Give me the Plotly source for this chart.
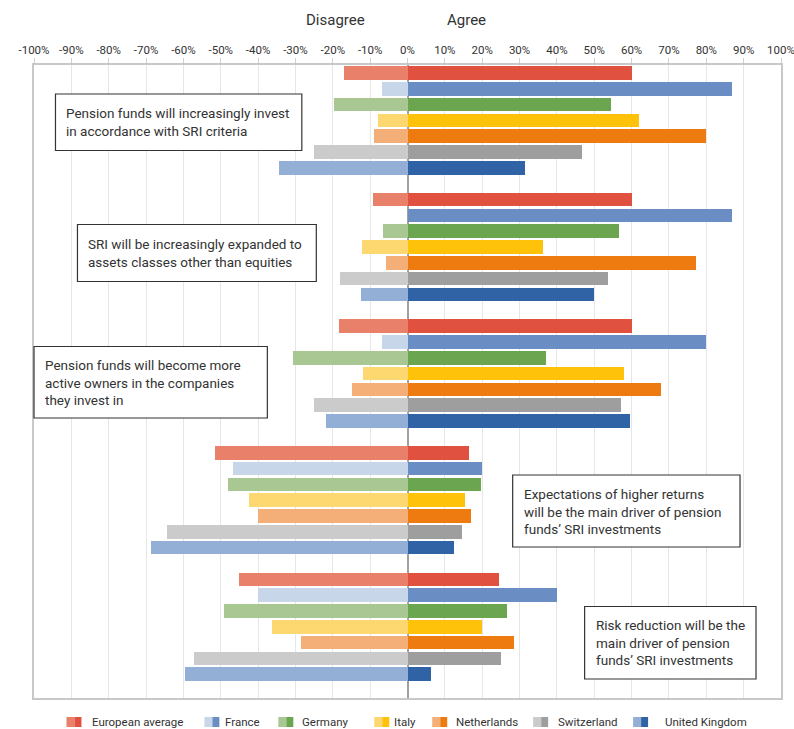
import plotly.graph_objects as go

# Survey statements (one block of bars each)
statements = [
    "Pension funds will increasingly invest<br>in accordance with SRI criteria",
    "SRI will be increasingly expanded to<br>assets classes other than equities",
    "Pension funds will become more<br>active owners in the companies<br>they invest in",
    "Expectations of higher returns<br>will be the main driver of pension<br>funds’ SRI investments",
    "Risk reduction will be the<br>main driver of pension<br>funds’ SRI investments",
]

countries = ["European average", "France", "Germany", "Italy",
             "Netherlands", "Switzerland", "United Kingdom"]

# Share agreeing (%) per statement, one list per country
agree_eu = [60, 60, 60, 16.5, 24.6]
agree_fr = [87, 87, 80, 20, 40]
agree_de = [54.6, 56.6, 37.2, 19.7, 26.6]
agree_it = [62, 36.2, 58, 15.4, 20]
agree_nl = [80, 77.3, 67.8, 17, 28.6]
agree_ch = [46.7, 53.6, 57.2, 14.5, 25]
agree_uk = [31.5, 50, 59.6, 12.4, 6.2]

# Share disagreeing (%) per statement, drawn to the left of zero
disagree_eu = [-17, -9.2, -18.3, -51.6, -45]
disagree_fr = [-6.7, 0, -6.8, -46.6, -40.1]
disagree_de = [-19.6, -6.5, -30.6, -48, -49]
disagree_it = [-7.8, -12.1, -11.8, -42.4, -36.2]
disagree_nl = [-8.9, -5.8, -14.8, -40.1, -28.6]
disagree_ch = [-25, -18.1, -25, -64.5, -57.2]
disagree_uk = [-34.5, -12.4, -21.9, -68.8, -59.6]

tick_values = list(range(-100, 101, 10))
tick_labels = [f"{v}%" for v in tick_values]

agree_all = [agree_eu, agree_fr, agree_de, agree_it, agree_nl, agree_ch, agree_uk]
disagree_all = [disagree_eu, disagree_fr, disagree_de, disagree_it,
                disagree_nl, disagree_ch, disagree_uk]

dark_colors = ["#E0523F", "#6A8DC4", "#6BA550", "#FEC20B",
               "#EE7B10", "#9E9E9E", "#2F63A5"]
light_colors = ["#E8806A", "#C8D6EA", "#A9C793", "#FDD870",
                "#F4AE78", "#CBCBCB", "#93AFD6"]

W, H = 794, 729
L, R, T, B = 33.5, 781, 65, 698
FONT = "Roboto, Arial, sans-serif"
TEXT = "#333333"

fig = go.Figure()

n_c = len(countries)
for ci in range(n_c):
    pos = [g * (n_c + 1) + ci for g in range(len(statements))]
    fig.add_trace(go.Bar(
        x=disagree_all[ci], y=pos, orientation="h",
        marker=dict(color=light_colors[ci], line=dict(width=0)),
        width=0.86, showlegend=False, name=countries[ci],
    ))
    fig.add_trace(go.Bar(
        x=agree_all[ci], y=pos, orientation="h",
        marker=dict(color=dark_colors[ci], line=dict(width=0)),
        width=0.86, showlegend=False, name=countries[ci],
    ))

n_slots = len(statements) * (n_c + 1) - 1


def px(x):
    return (x - L) / (R - L)


def py(y):
    return 1 - (y - T) / (B - T)


shapes = []
annotations = []

# Statement boxes: (left, top, right, bottom) in pixels
boxes = [
    (55, 94, 301.5, 150.5),
    (77, 224.5, 316, 281.5),
    (33.5, 346.5, 267, 418),
    (512.5, 475, 740, 547),
    (584.5, 606.5, 756, 679),
]
for (x0, y0, x1, y1), txt in zip(boxes, statements):
    shapes.append(dict(type="rect", xref="paper", yref="paper",
                       x0=px(x0), x1=px(x1), y0=py(y0), y1=py(y1),
                       line=dict(color="#333333", width=1.2),
                       fillcolor="white", layer="above"))
    annotations.append(dict(xref="paper", yref="paper",
                            x=px(x0 + 9), y=py((y0 + y1) / 2),
                            xanchor="left", yanchor="middle", align="left",
                            showarrow=False, text=txt,
                            font=dict(family=FONT, size=13.5, color=TEXT)))

# Headings above the axis
annotations.append(dict(xref="paper", yref="paper", x=px(335), y=py(20),
                        text="Disagree", showarrow=False, xanchor="center",
                        yanchor="middle",
                        font=dict(family=FONT, size=15, color=TEXT)))
annotations.append(dict(xref="paper", yref="paper", x=px(466), y=py(20),
                        text="Agree", showarrow=False, xanchor="center",
                        yanchor="middle",
                        font=dict(family=FONT, size=15, color=TEXT)))

# Legend with two-tone swatches
legend_x = [66, 204, 278, 374, 432, 533, 633]
legend_text_x = [90, 223, 300, 392, 454, 556, 663]
ly = 722
for ci, name in enumerate(countries):
    sx = legend_x[ci]
    shapes.append(dict(type="rect", xref="paper", yref="paper",
                       x0=px(sx), x1=px(sx + 8), y0=py(ly - 5), y1=py(ly + 5),
                       line=dict(width=0), fillcolor=light_colors[ci]))
    shapes.append(dict(type="rect", xref="paper", yref="paper",
                       x0=px(sx + 8), x1=px(sx + 15), y0=py(ly - 5), y1=py(ly + 5),
                       line=dict(width=0), fillcolor=dark_colors[ci]))
    annotations.append(dict(xref="paper", yref="paper", x=px(legend_text_x[ci]),
                            y=py(ly), text=name, showarrow=False,
                            xanchor="left", yanchor="middle",
                            font=dict(family=FONT, size=11.5, color=TEXT)))

fig.update_layout(
    width=W, height=H,
    margin=dict(l=L, r=W - R, t=T, b=H - B, pad=0, autoexpand=False),
    paper_bgcolor="white", plot_bgcolor="white",
    barmode="overlay", bargap=0,
    showlegend=False,
    shapes=shapes, annotations=annotations,
    xaxis=dict(
        side="top", range=[-100, 100], automargin=False,
        tickvals=tick_values, ticktext=tick_labels,
        tickfont=dict(family=FONT, size=11.5, color=TEXT),
        ticklabeloverflow="allow",
        showgrid=True, gridcolor="#E6E6E6", gridwidth=1,
        zeroline=True, zerolinecolor="#A0A0A0", zerolinewidth=1.5,
        ticks="outside", ticklen=5, tickcolor="#D0D0D0",
        showline=True, linecolor="#C8C8C8", linewidth=1.5, mirror=True,
        fixedrange=True,
    ),
    yaxis=dict(
        range=[n_slots + 0.5, -0.5], showticklabels=False, automargin=False,
        showgrid=False, zeroline=False,
        showline=True, linecolor="#C8C8C8", linewidth=1.5, mirror=True,
        fixedrange=True,
    ),
)

fig.write_html("out.html")
